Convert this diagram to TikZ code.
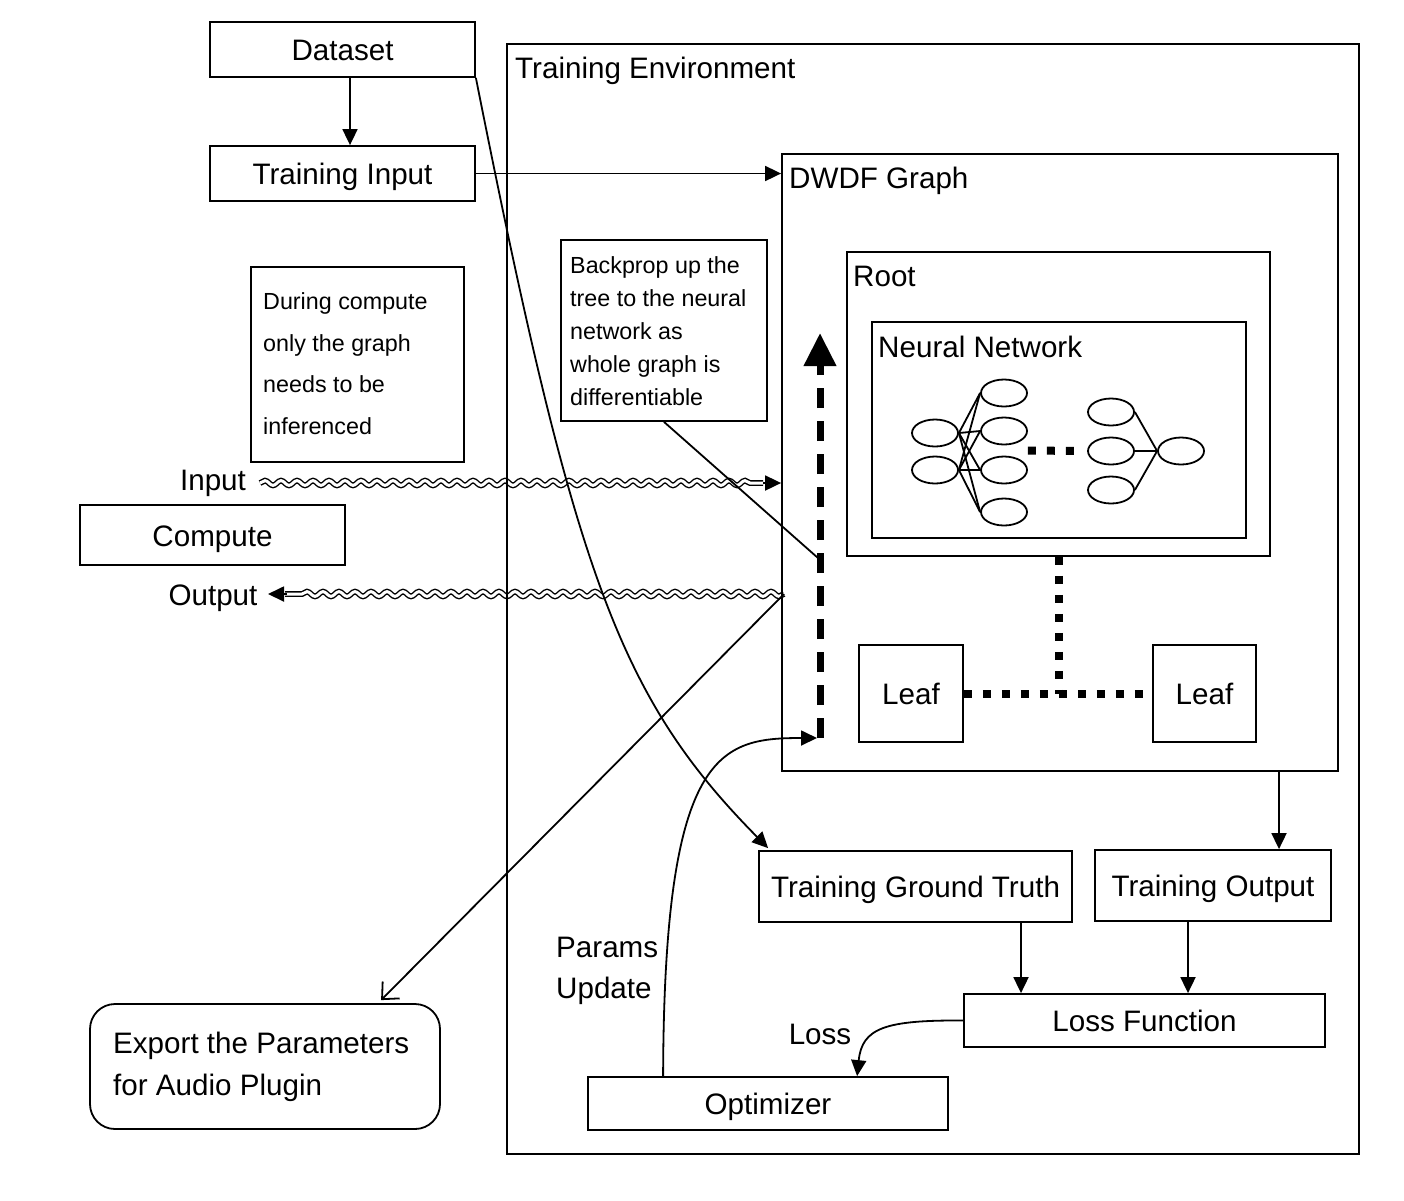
\documentclass[tikz,border=0pt]{standalone}
\usepackage{fontspec}
\setmainfont{Liberation Sans}
\usetikzlibrary{arrows.meta,shapes.geometric,decorations.pathmorphing,calc}
\newcommand\mainf{\fontsize{29.6pt}{35pt}\selectfont}
\begin{document}
\begin{tikzpicture}[x=1pt,y=-1pt,
  box/.style={draw, line width=1.8pt, inner sep=0pt, font=\mainf, text height=22.5pt, text depth=0pt},
  frame/.style={draw, line width=1.8pt, inner sep=0pt},
  lbl/.style={inner sep=0pt, font=\mainf, anchor=base west},
  clbl/.style={inner sep=0pt, font=\mainf, anchor=base},
  arr/.style={line width=1.8pt, -{Triangle[length=16pt,width=15pt]}},
  neuron/.style={draw, ellipse, line width=1.8pt, minimum width=46pt, minimum height=27pt, inner sep=0pt},
  dotsq/.style={line width=8pt, dash pattern=on 8pt off 11pt},
  wavy/.style={line width=1.4pt, double, double distance=3pt, decorate,
     decoration={snake, amplitude=2.4pt, segment length=16pt, post length=12pt}},
  thin/.style={line width=1.8pt}]
\useasboundingbox (0,0) rectangle (1404,1200);
\fill[white] (0,0) rectangle (1404,1200);

% free ends
\coordinate (inS) at (260,483);
\coordinate (inE) at (763,483);
\coordinate (outS) at (784,594);
\coordinate (outE) at (285,594);
\coordinate (outT) at (268,594);
\coordinate (bpB) at (820,738);
\coordinate (bpT) at (820,333);
\coordinate (bpM) at (818,558);
\coordinate (c350) at (350,0);
\coordinate (c1279) at (1279,0);
\coordinate (c1021) at (1021,0);
\coordinate (c1188) at (1188,0);

% wavy compute lines (drawn first so other lines pass over them)
\draw[wavy] (inS) -- (inE);
\draw[wavy] (outS) -- (outE);

% top boxes
\node[box, minimum width=265pt, minimum height=55pt] (dataset) at (342.5,49.5) {Dataset};
\node[box, minimum width=265pt, minimum height=55pt] (tin) at (342.5,173.5) {Training Input};

% containers
\node[frame, minimum width=852pt, minimum height=1110pt] (env) at (933,599) {};
\node[lbl] (envl) at (515,78) {Training Environment};
\node[frame, minimum width=556pt, minimum height=617pt] (dwdf) at (1060,462.5) {};
\node[lbl] (dwdfl) at (789,188.5) {DWDF Graph};
\node[frame, minimum width=423pt, minimum height=304pt] (root) at (1058.5,404) {};
\node[lbl] (rootl) at (853,286.5) {Root};
\node[frame, minimum width=374pt, minimum height=216pt] (nn) at (1059,430) {};
\node[lbl] (nnl) at (878,357.5) {Neural Network};

% neurons
\node[neuron] (n11) at (935,433) {};
\node[neuron] (n12) at (935,470) {};
\node[neuron] (n21) at (1004,393) {};
\node[neuron] (n22) at (1004,431) {};
\node[neuron] (n23) at (1004,470) {};
\node[neuron] (n24) at (1004,512) {};
\node[neuron] (n31) at (1111,412) {};
\node[neuron] (n32) at (1111,451) {};
\node[neuron] (n33) at (1111,490) {};
\node[neuron] (n41) at (1181,451) {};
\foreach \i in {11,12}{\foreach \j in {21,22,23,24}{\draw[thin] (n\i.east) -- (n\j.west);}}
\foreach \i in {31,32,33}{\draw[thin] (n\i.east) -- (n41.west);}
\draw[dotsq] ($(n22.east)!0.5!(n23.east)$) -- ($(n32.west)+(-5,0)$);

% leaves
\node[box, minimum width=104pt, minimum height=97pt] (leaf1) at (911,693.5) {Leaf};
\node[box, minimum width=103pt, minimum height=97pt] (leaf2) at (1204.5,693.5) {Leaf};
\draw[dotsq] (root.south) -- (root.south |- leaf1.east);
\draw[dotsq] (leaf1.east) -- (leaf2.west);

% notes
\node[frame, minimum width=213pt, minimum height=195pt] (note1) at (357.5,364.5) {};
\node[inner sep=0pt, anchor=north west, align=left, font=\fontsize{23.3pt}{41.6pt}\selectfont] (note1t) at (263,291.3)
  {\rule{0pt}{18pt}During compute\\only the graph\\needs to be\\inferenced};
\node[frame, minimum width=206pt, minimum height=181pt] (note2) at (664,330.5) {};
\node[inner sep=0pt, anchor=north west, align=left, font=\fontsize{23.3pt}{33pt}\selectfont] (note2t) at (570,255.7)
  {\rule{0pt}{18pt}Backprop up the\\tree to the neural\\network as\\whole graph is\\differentiable};

% compute
\node[box, minimum width=265pt, minimum height=60pt] (compute) at (212.5,535) {Compute};
\node[clbl] (inl) at (213,490) {Input};
\node[clbl] (outl) at (213,605) {Output};

% bottom boxes
\node[box, minimum width=313pt, minimum height=71pt] (gt) at (915.5,886.5) {Training Ground Truth};
\node[box, minimum width=236pt, minimum height=71pt] (tout) at (1213,885.5) {Training Output};
\node[box, minimum width=361pt, minimum height=53pt] (lossf) at (1144.5,1020.5) {Loss Function};
\node[box, minimum width=360pt, minimum height=53pt] (opt) at (768,1103.5) {Optimizer};
\node[frame, rounded corners=25pt, minimum width=350pt, minimum height=125pt] (export) at (265,1066.5) {};
\node[inner sep=0pt, anchor=north west, align=left, font=\fontsize{29.6pt}{41.7pt}\selectfont] (exportt) at (113,1030.5)
  {\rule{0pt}{23pt}Export the Parameters\\for Audio Plugin};
\node[inner sep=0pt, anchor=north west, align=left, font=\fontsize{29.6pt}{41pt}\selectfont] (params) at (556,934.3)
  {\rule{0pt}{23pt}Params\\Update};
\node[clbl] (lossl) at (820,1044) {Loss};

% connectors
\draw[arr] (dataset.south -| c350) -- (tin.north -| c350);
\draw[arr] (tin.east) -- (dwdf.west |- tin.east);
\draw[arr] (dataset.south east) .. controls (575,577) and (620,698) .. ($(gt.north west)+(10,-2)$);
\draw[arr] (inE) -- (dwdf.west |- inS);
\draw[arr] ($(outE)+(2,0)$) -- (outT);
\draw[line width=1.8pt, -{Straight Barb[length=13pt,width=24pt]}] (outS) -- ($(export.north west)+(292,-3)$);
\draw[line width=7pt, dash pattern=on 20pt off 13pt, -{Triangle[length=33pt,width=31pt]}] (bpB) -- (bpT);
\draw[thin] (note2.south) -- (bpM);
\draw[arr] ($(opt.north west)+(76,0)$) .. controls (664,750) and (720,738) .. ($(bpB)+(-3,0)$);
\draw[arr] (dwdf.south -| c1279) -- (tout.north -| c1279);
\draw[arr] (gt.south -| c1021) -- (lossf.north -| c1021);
\draw[arr] (tout.south -| c1188) -- (lossf.north -| c1188);
\draw[arr] (lossf.west) .. controls (885,1020) and (862,1028) .. ($(opt.north west)+(270,0)$);
\end{tikzpicture}
\end{document}
